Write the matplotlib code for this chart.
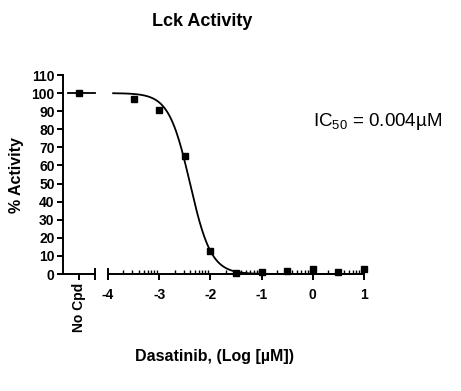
import numpy as np
import matplotlib
matplotlib.use("Agg")
import matplotlib.pyplot as plt
import matplotlib.transforms as mtransforms

plt.rcParams['font.family'] = ['Liberation Sans', 'DejaVu Sans']
plt.rcParams['mathtext.fontset'] = 'custom'
plt.rcParams['mathtext.rm'] = 'Liberation Sans'
plt.rcParams['mathtext.it'] = 'Liberation Sans:italic'
plt.rcParams['mathtext.bf'] = 'Liberation Sans:bold'

# data
no_cpd_value = 100
log_conc = [-3.5, -3.0, -2.5, -2.0, -1.5, -1.0, -0.5, 0.0, 0.5, 1.0]
activity = [96.8, 90.5, 65.5, 12.5, 0.3, 1.0, 1.5, 2.5, 1.0, 2.8]

# fitted curve parameters (IC50 = 0.004 uM)
top, bottom = 100, 0
log_ic50 = np.log10(0.004)
hill = 2.1

x_ticks = [-4, -3, -2, -1, 0, 1]
y_ticks = list(range(0, 111, 10))

fig = plt.figure(figsize=(4.61, 3.91), dpi=100)
ax0 = fig.add_axes([63/461, 117/391, 32/461, 199/391])
ax1 = fig.add_axes([108/461, 117/391, 256/461, 199/391])

lw = 1.4
for ax in (ax0, ax1):
    ax.set_ylim(0, 110)
    for s in ('top', 'right'):
        ax.spines[s].set_visible(False)
    ax.spines['bottom'].set_linewidth(lw)
    ax.spines['left'].set_linewidth(lw)
    ax.patch.set_visible(False)

# left "No Cpd" segment
ax0.set_xlim(0, 2)
ax0.set_xticks([1])
ax0.set_xticklabels(['No Cpd'], rotation=90, fontsize=10, fontweight='bold')
ax0.set_yticks(y_ticks)
ax0.set_yticklabels([str(v) for v in y_ticks], fontsize=10, fontweight='bold')
ax0.tick_params(direction='out', length=4, width=lw, pad=2)
ax0.plot([0.3, 2], [top, top], color='black', lw=1.3, clip_on=False)
ax0.plot([1], [no_cpd_value], 's', color='black', ms=5, clip_on=False)
trans0 = mtransforms.blended_transform_factory(ax0.transData, ax0.transAxes)
ax0.plot([2], [0], marker='|', ms=8, mew=lw, color='black', transform=trans0, clip_on=False)

# main log axis
ax1.spines['left'].set_visible(False)
ax1.set_yticks([])
ax1.set_xlim(-4, 1)
ax1.set_xticks(x_ticks)
ax1.set_xticklabels([str(v) for v in x_ticks], fontsize=10, fontweight='bold')
minor = [k + np.log10(m) for k in range(-4, 1) for m in range(2, 10)]
ax1.set_xticks(minor, minor=True)
ax1.tick_params(axis='x', which='major', direction='out', length=4, width=lw, pad=6)
ax1.tick_params(axis='x', which='minor', direction='in', length=3, width=1)
trans1 = mtransforms.blended_transform_factory(ax1.transData, ax1.transAxes)
ax1.plot([-4], [0], marker='|', ms=8, mew=lw, color='black', transform=trans1, clip_on=False)

xc = np.linspace(-3.9, 1, 300)
yc = bottom + (top - bottom) / (1 + 10 ** ((xc - log_ic50) * hill))
ax1.plot(xc, yc, color='black', lw=1.3, clip_on=False)
ax1.plot(log_conc, activity, 's', color='black', ms=5, clip_on=False)

fig.text(202/461, 1 - 22/391, 'Lck Activity', ha='center', va='center',
         fontsize=13, fontweight='bold')
fig.text(17/461, 1 - 175/391, '% Activity', ha='center', va='center',
         rotation=90, fontsize=11.5, fontweight='bold')
fig.text(214/461, 1 - 357/391, 'Dasatinib, (Log [µM])', ha='center', va='center',
         fontsize=11.5, fontweight='bold')
fig.text(313/461, 1 - 122/391, 'IC$_{50}$ = 0.004µM', ha='left', va='center',
         fontsize=13.5)

fig.savefig('out.png', dpi=100)
